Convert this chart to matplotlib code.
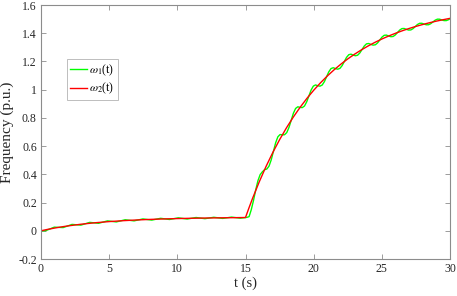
import matplotlib
matplotlib.use("Agg")
import matplotlib.pyplot as plt

# ---- data ----
t_red = [0, 0.5, 1, 1.5, 2, 3, 4, 5, 6, 7, 8, 9, 10, 11, 12, 13, 14, 15,
         15.25, 15.5, 16, 16.5, 17, 17.5, 18, 18.5, 19, 19.5, 20, 20.5, 21, 21.5,
         22, 22.5, 23, 23.5, 24, 24.5, 25, 25.5, 26, 26.5, 27, 27.5, 28, 28.5,
         29, 29.5, 30]
w2 = [0, 0.0102, 0.0193, 0.0275, 0.0348, 0.0472, 0.0571, 0.0651, 0.0714, 0.0765,
      0.0806, 0.0839, 0.0865, 0.0886, 0.0903, 0.0916, 0.0927, 0.094,
      0.1611, 0.2252, 0.3450, 0.4544, 0.5543, 0.6455, 0.7288, 0.8049, 0.8743,
      0.9377, 0.9956, 1.0485, 1.0968, 1.1409, 1.1811, 1.2179, 1.2514, 1.2820,
      1.3100, 1.3356, 1.3589, 1.3802, 1.3996, 1.4174, 1.4336, 1.4484, 1.4619,
      1.4743, 1.4856, 1.4959, 1.5053]

t_green = [0, 0.325, 0.65, 0.975, 1.3, 1.625, 1.95, 2.275, 2.6, 2.925, 3.25, 3.575,
           3.9, 4.225, 4.55, 4.875, 5.2, 5.525, 5.85, 6.175, 6.5, 6.825, 7.15, 7.475,
           7.8, 8.125, 8.45, 8.775, 9.1, 9.425, 9.75, 10.075, 10.4, 10.725, 11.05,
           11.375, 11.7, 12.025, 12.35, 12.675, 13.0, 13.325, 13.65, 13.975, 14.3,
           14.625, 14.95,
           15.0, 15.1, 15.2625, 15.425, 15.5875, 15.75, 15.9125, 16.075, 16.2375,
           16.4, 16.5625, 16.725, 16.8875, 17.05, 17.2125, 17.375, 17.5375,
           17.7, 17.8625, 18.025, 18.1875, 18.35, 18.5125, 18.675, 18.8375,
           19.0, 19.1625, 19.325, 19.4875, 19.65, 19.8125, 19.975, 20.1375,
           20.3, 20.4625, 20.625, 20.7875, 20.95, 21.1125, 21.275, 21.4375,
           21.6, 21.7625, 21.925, 22.0875, 22.25, 22.4125, 22.575, 22.7375,
           22.9, 23.0625, 23.225, 23.3875, 23.55, 23.7125, 23.875, 24.0375,
           24.2, 24.3625, 24.525, 24.6875, 24.85, 25.0125, 25.175, 25.3375,
           25.5, 25.6625, 25.825, 25.9875, 26.15, 26.3125, 26.475, 26.6375,
           26.8, 26.9625, 27.125, 27.2875, 27.45, 27.6125, 27.775, 27.9375,
           28.1, 28.2625, 28.425, 28.5875, 28.75, 28.9125, 29.075, 29.2375,
           29.4, 29.5625, 29.725, 29.8875, 30.0]
w1 = [0, 0.000, 0.0131, 0.0257, 0.0243, 0.0227, 0.0341, 0.0451, 0.0426, 0.0400,
      0.0499, 0.0595, 0.0562, 0.0529, 0.0617, 0.0702, 0.0665, 0.0627, 0.0706,
      0.0782, 0.0741, 0.0701, 0.0772, 0.0841, 0.0799, 0.0757, 0.0822, 0.0884,
      0.0842, 0.0800, 0.0859, 0.0917, 0.0874, 0.0832, 0.0887, 0.0940, 0.0898,
      0.0857, 0.0908, 0.0957, 0.0916, 0.0877, 0.0923, 0.0969, 0.0930, 0.0891,
      0.0935,
      0.094, 0.095, 0.100, 0.150, 0.215, 0.290, 0.355, 0.398, 0.418,
      0.433, 0.4375, 0.4581, 0.5027, 0.5639, 0.6242, 0.6661, 0.6821,
      0.6798, 0.6805, 0.6958, 0.7320, 0.7828, 0.8329, 0.8670, 0.8787,
      0.8744, 0.8728, 0.8840, 0.9135, 0.9557, 0.9974, 1.0252, 1.0335,
      1.0280, 1.0249, 1.0329, 1.0570, 1.0922, 1.1270, 1.1498, 1.1555,
      1.1493, 1.1451, 1.1508, 1.1704, 1.2000, 1.2291, 1.2477, 1.2516,
      1.2450, 1.2403, 1.2442, 1.2603, 1.2850, 1.3094, 1.3247, 1.3272,
      1.3206, 1.3156, 1.3182, 1.3314, 1.3522, 1.3727, 1.3853, 1.3867,
      1.3803, 1.3753, 1.3768, 1.3877, 1.4052, 1.4225, 1.4329, 1.4336,
      1.4274, 1.4225, 1.4233, 1.4323, 1.4471, 1.4617, 1.4703, 1.4704,
      1.4645, 1.4598, 1.4601, 1.4676, 1.4801, 1.4925, 1.4996, 1.4994,
      1.4939, 1.4895, 1.4894, 1.4956, 1.5027]

x_ticks = [0, 5, 10, 15, 20, 25, 30]
y_ticks = [-0.2, 0, 0.2, 0.4, 0.6, 0.8, 1.0, 1.2, 1.4, 1.6]
y_tick_labels = ['-0.2', '0', '0.2', '0.4', '0.6', '0.8', '1', '1.2', '1.4', '1.6']
labels = [r'$\omega_1$(t)', r'$\omega_2$(t)']

# ---- style ----
plt.rcParams['font.family'] = ['Liberation Serif', 'DejaVu Serif']
plt.rcParams['mathtext.fontset'] = 'stix'

fig = plt.figure(figsize=(4.57, 2.96), dpi=100)
ax = fig.add_axes([41/457, 1 - 259/296, 409/457, 254/296])

ax.plot(t_green, w1, color='#00ff00', lw=1.0, label=labels[0])
ax.plot(t_red, w2, color='#ff0000', lw=1.0, label=labels[1])

ax.set_xlim(0, 30)
ax.set_ylim(-0.2, 1.6)
ax.set_xticks(x_ticks)
ax.set_xticklabels([str(v) for v in x_ticks])
ax.set_yticks(y_ticks)
ax.set_yticklabels(y_tick_labels)

spine_c = '#8c8c8c'
for s in ax.spines.values():
    s.set_color(spine_c)
    s.set_linewidth(0.8)
ax.tick_params(direction='in', length=3.5, width=0.6, color=spine_c,
               top=True, right=True, labelsize=8.5, labelcolor='#262626', pad=3)

ax.set_xlabel('t (s)', fontsize=10.5, color='#262626', labelpad=1)
ax.set_ylabel('Frequency (p.u.)', fontsize=11, color='#262626', labelpad=3)

leg = ax.legend(loc='upper left', bbox_to_anchor=(0.063, 0.787), borderaxespad=0,
                fontsize=8.5, handlelength=1.4, handletextpad=0.2, borderpad=0.3,
                labelspacing=0.25, fancybox=False, framealpha=1)
leg.get_frame().set_edgecolor('#bdbdbd')
leg.get_frame().set_linewidth(0.7)

fig.savefig('out.png', dpi=100)
